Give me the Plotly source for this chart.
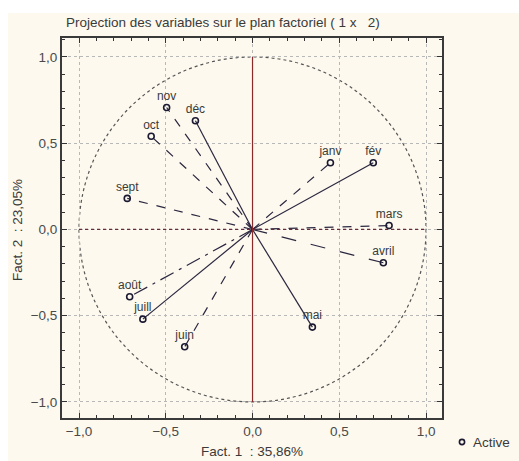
import plotly.graph_objects as go

# Coordinates of the monthly variables on factors 1 and 2
months = ["janv", "fév", "mars", "avril", "mai", "juin",
          "juill", "août", "sept", "oct", "nov", "déc"]
fact1 = [0.449, 0.696, 0.787, 0.754, 0.345, -0.391,
         -0.632, -0.708, -0.722, -0.584, -0.495, -0.329]
fact2 = [0.387, 0.387, 0.023, -0.193, -0.566, -0.680,
         -0.52, -0.39, 0.18, 0.54, 0.707, 0.63]
line_styles = ["dash", "solid", "dash", "longdash", "solid", "dash",
               "solid", "longdashdot", "dash", "dash", "dash", "solid"]

tick_vals = [-1.0, -0.5, 0.0, 0.5, 1.0]
x_title = "Fact. 1\u00a0\u00a0: 35,86%"
y_title = "Fact. 2\u00a0\u00a0: 23,05%"
title = "Projection des variables sur le plan factoriel (\u00a01 x\u00a0\u00a0\u00a02)"
legend_label = "Active"

W, H = 519, 461
ML, MR, MT, MB = 62, 77, 38, 43
PW, PH = W - ML - MR, H - MT - MB
FONT = "Liberation Sans, Arial"
TXT = "#3a3a3a"


def px_x(p):
    return (p - ML) / PW


def px_y(p):
    return (H - MB - p) / PH


line_col = "#2b2740"
mark_col = "#1c1a33"
fig = go.Figure()

# vectors from the origin to each variable
for m, x, y, d in zip(months, fact1, fact2, line_styles):
    fig.add_trace(go.Scatter(
        x=[0, x], y=[0, y], mode="lines",
        line=dict(color=line_col, width=1.2, dash=d),
        showlegend=False, hoverinfo="skip"))

# variable points with labels
fig.add_trace(go.Scatter(
    x=fact1, y=fact2, mode="markers+text", text=months,
    textposition="top center",
    textfont=dict(family=FONT, size=12, color=TXT),
    marker=dict(symbol="circle-open", size=6, color=mark_col,
                line=dict(width=1.6, color=mark_col)),
    name=legend_label, showlegend=False))

axis_common = dict(
    tickvals=tick_vals, tickformat=".1f",
    ticks="inside", ticklen=5, tickwidth=1, tickcolor="#333",
    minor=dict(dtick=0.1, ticks="inside", ticklen=3, tickcolor="#333",
               showgrid=False),
    showline=True, linecolor="#3a3a3a", linewidth=2, mirror="allticks",
    showgrid=True, gridcolor="#b8b8b8", griddash="dot", gridwidth=1,
    zeroline=False,
    tickfont=dict(family=FONT, size=13.5, color="#4a4a4a"),
)

fig.update_xaxes(range=[-1.098, 1.092], **axis_common)
fig.update_yaxes(range=[-1.093, 1.11], **axis_common)

shapes = [
    # cream page background
    dict(type="rect", xref="paper", yref="paper",
         x0=px_x(8), x1=px_x(W + 5), y0=px_y(H + 5), y1=px_y(13),
         fillcolor="#fdf9ee", line=dict(width=0), layer="below"),
    # unit correlation circle
    dict(type="circle", xref="x", yref="y", x0=-1, x1=1, y0=-1, y1=1,
         line=dict(color="#555", width=1.2, dash="dot"), layer="below"),
    # factor axes through the origin
    dict(type="line", xref="x", yref="y", x0=0, x1=0, y0=-1, y1=1,
         line=dict(color="#8a2a2a", width=1.2)),
    dict(type="line", xref="x", yref="y", x0=-1, x1=1, y0=0, y1=0,
         line=dict(color="#6a2a3a", width=1.2, dash="dot")),
    # legend symbol
    dict(type="circle", xref="paper", yref="paper",
         xsizemode="pixel", ysizemode="pixel",
         xanchor=px_x(462), yanchor=px_y(442),
         x0=-2.6, x1=2.6, y0=-2.6, y1=2.6,
         line=dict(color=mark_col, width=1.6)),
]

annotations = [
    dict(text=title, xref="paper", yref="paper", x=px_x(64), y=px_y(22),
         xanchor="left", yanchor="middle", showarrow=False,
         font=dict(family=FONT, size=13.5, color=TXT)),
    dict(text=x_title, xref="paper", yref="paper", x=px_x(252), y=px_y(451),
         xanchor="center", yanchor="middle", showarrow=False,
         font=dict(family=FONT, size=13.5, color=TXT)),
    dict(text=y_title, xref="paper", yref="paper", x=px_x(17), y=px_y(230),
         xanchor="center", yanchor="middle", showarrow=False, textangle=-90,
         font=dict(family=FONT, size=13.5, color=TXT)),
    dict(text=legend_label, xref="paper", yref="paper", x=px_x(471), y=px_y(442),
         xanchor="left", yanchor="middle", showarrow=False,
         font=dict(family=FONT, size=13.5, color=TXT)),
]

fig.update_layout(
    width=W, height=H,
    margin=dict(l=ML, r=MR, t=MT, b=MB),
    paper_bgcolor="white", plot_bgcolor="white",
    separators=", ",
    shapes=shapes, annotations=annotations,
    showlegend=False,
)

fig.write_html("out.html")
